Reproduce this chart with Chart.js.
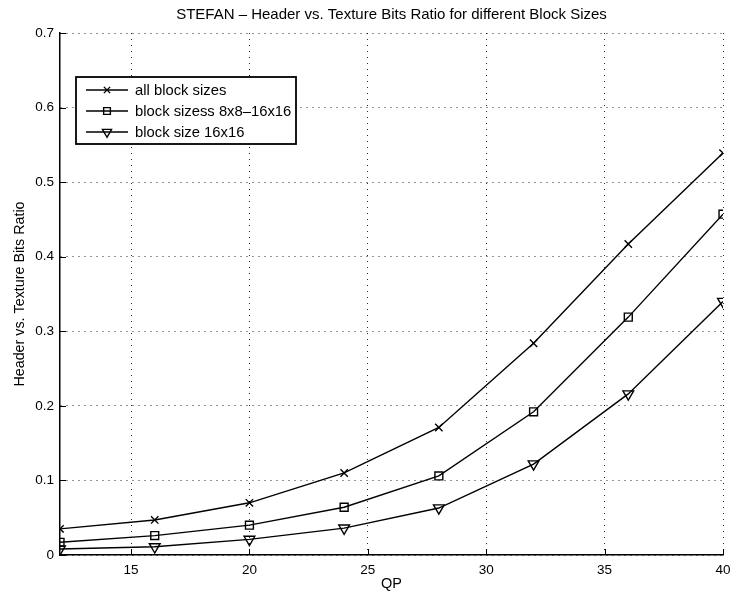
<!DOCTYPE html>
<html><head><meta charset="utf-8">
<script src="https://cdn.jsdelivr.net/npm/chart.js@4"></script>
<style>html,body{margin:0;padding:0;background:#fff}canvas{display:block}</style>
</head><body>
<canvas id="c" width="732" height="597"></canvas>
<script>
const qp = [12, 16, 20, 24, 28, 32, 36, 40];
const allBlocks = [0.035, 0.047, 0.070, 0.110, 0.171, 0.284, 0.417, 0.539];
const blocks8to16 = [0.017, 0.026, 0.040, 0.064, 0.106, 0.192, 0.319, 0.457];
const block16 = [0.008, 0.011, 0.021, 0.036, 0.063, 0.122, 0.216, 0.340];
const seriesNames = ['all block sizes', 'block sizess 8x8\u201316x16', 'block size 16x16'];
const xTicks = [15, 20, 25, 30, 35, 40];
const yTicks = [0, 0.1, 0.2, 0.3, 0.4, 0.5, 0.6, 0.7];
const titleText = 'STEFAN \u2013 Header vs. Texture Bits Ratio for different Block Sizes';
const xTitle = 'QP';
const yTitle = 'Header vs. Texture Bits Ratio';

const FONT = '"Liberation Sans", Arial, Helvetica, sans-serif';
const pts = arr => qp.map((x, i) => ({x: x, y: arr[i]}));

function ds(label, arr, style, radius, rot) {
  return {
    label: label, data: pts(arr),
    borderColor: '#000', borderWidth: 1.4,
    pointStyle: style, pointRadius: radius, pointHoverRadius: radius,
    pointRotation: rot || 0,
    pointBorderColor: '#000', pointBorderWidth: 1.4,
    pointBackgroundColor: 'rgba(0,0,0,0)',
    tension: 0, fill: false
  };
}

const extras = {
  id: 'extras',
  afterDraw(chart) {
    const ctx = chart.ctx, ca = chart.chartArea;
    const xs = chart.scales.x, ys = chart.scales.y;
    ctx.save();
    // inward tick marks
    ctx.strokeStyle = '#000'; ctx.lineWidth = 1;
    ctx.beginPath();
    xTicks.forEach(v => { const px = Math.round(xs.getPixelForValue(v)) + 0.5; ctx.moveTo(px, ca.bottom); ctx.lineTo(px, ca.bottom - 6); });
    yTicks.forEach(v => { const py = Math.round(ys.getPixelForValue(v)) + 0.5; ctx.moveTo(ca.left, py); ctx.lineTo(ca.left + 6, py); });
    ctx.stroke();
    // title
    ctx.fillStyle = '#000';
    ctx.font = '15px ' + FONT;
    ctx.textAlign = 'center'; ctx.textBaseline = 'middle';
    ctx.fillText(titleText, (ca.left + ca.right) / 2, 15);
    // legend
    const lx = 76, ly = 77, lw = 220, lh = 67;
    ctx.fillStyle = '#fff';
    ctx.fillRect(lx, ly, lw, lh);
    ctx.lineWidth = 1.8; ctx.strokeStyle = '#000';
    ctx.strokeRect(lx, ly, lw, lh);
    const rows = [90, 111, 132];
    chart.data.datasets.forEach((d, i) => {
      const y = rows[i];
      ctx.lineWidth = 1.4; ctx.strokeStyle = '#000';
      ctx.beginPath(); ctx.moveTo(86, y); ctx.lineTo(128, y); ctx.stroke();
      ctx.fillStyle = 'rgba(0,0,0,0)';
      Chart.helpers.drawPoint(ctx, {pointStyle: d.pointStyle, radius: d.pointRadius * 0.85, rotation: d.pointRotation, borderWidth: 1.4}, 107, y);
      ctx.fillStyle = '#000';
      ctx.font = '14.8px ' + FONT;
      ctx.textAlign = 'left'; ctx.textBaseline = 'middle';
      ctx.fillText(d.label, 135, y + 0.5);
    });
    ctx.restore();
  }
};

new Chart(document.getElementById('c'), {
  type: 'line',
  data: {
    datasets: [
      ds(seriesNames[0], allBlocks, 'crossRot', 5.2),
      ds(seriesNames[1], blocks8to16, 'rect', 5.6),
      ds(seriesNames[2], block16, 'triangle', 6.2, 180)
    ]
  },
  options: {
    responsive: false, animation: false,
    devicePixelRatio: 1,
    layout: {padding: {left: 0, top: 33, right: 9, bottom: 0}},
    plugins: {legend: {display: false}, tooltip: {enabled: false}, title: {display: false}},
    scales: {
      x: {
        type: 'linear', min: 12, max: 40,
        afterBuildTicks: s => { s.ticks = xTicks.map(v => ({value: v})); },
        afterFit: s => { s.height = 42; s.paddingRight = 0; s.paddingLeft = 0; },
        grid: {color: 'rgba(0,0,0,0.85)', lineWidth: 1, drawTicks: false},
        border: {display: true, color: '#000', width: 1.5, dash: [1, 5]},
        ticks: {color: '#000', font: {family: FONT, size: 13.5}, padding: 7, maxRotation: 0,
                callback: v => String(v)},
        title: {display: true, text: xTitle, color: '#000', font: {family: FONT, size: 14.5}, padding: {top: 1, bottom: 4}}
      },
      y: {
        type: 'linear', min: 0, max: 0.7,
        afterBuildTicks: s => { s.ticks = yTicks.map(v => ({value: v})); },
        afterFit: s => { s.width = 60; },
        grid: {color: 'rgba(0,0,0,0.85)', lineWidth: 1, drawTicks: false},
        border: {display: true, color: '#000', width: 1.5, dash: [1, 5]},
        ticks: {color: '#000', font: {family: FONT, size: 13.5}, padding: 6,
                callback: v => String(Math.round(v * 10) / 10)},
        title: {display: true, text: yTitle, color: '#000', font: {family: FONT, size: 14.3}, padding: {top: 11, bottom: 0}}
      }
    }
  },
  plugins: [extras]
});
</script>
</body></html>
